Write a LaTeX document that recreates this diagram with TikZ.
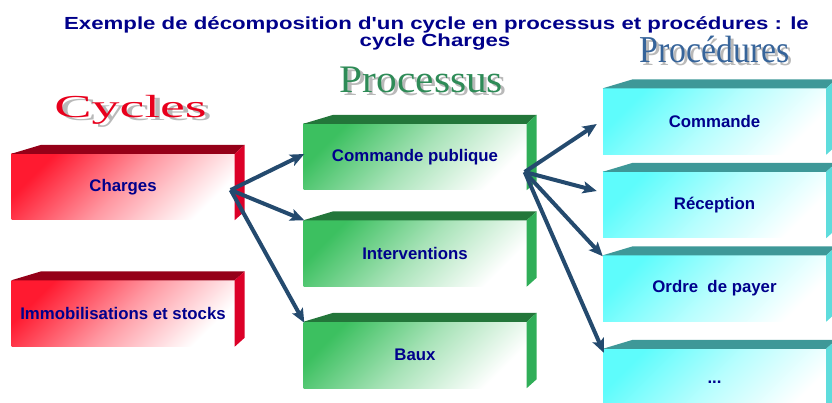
\documentclass[tikz,border=0pt]{standalone}
\usepackage{fontspec}
\setmainfont{Liberation Serif}
\setsansfont{Liberation Sans}
\usetikzlibrary{calc,arrows.meta,positioning}

\definecolor{titrebleu}{HTML}{00008A}
\definecolor{texteboite}{HTML}{00008C}
\definecolor{fleche}{HTML}{244A6E}
\definecolor{rougeFace}{HTML}{FF1A30}
\definecolor{rougeHaut}{HTML}{950018}
\definecolor{rougeCote}{HTML}{DC0028}
\definecolor{vertFace}{HTML}{3CC060}
\definecolor{vertHaut}{HTML}{23763A}
\definecolor{vertCote}{HTML}{30AE58}
\definecolor{cyanFace}{HTML}{5EFCFC}
\definecolor{cyanHaut}{HTML}{3E9898}
\definecolor{cyanCote}{HTML}{5EDCDC}
\definecolor{coulCycles}{HTML}{E8001C}
\definecolor{coulProcessus}{HTML}{2E8B57}
\definecolor{coulProcedures}{HTML}{36649A}

\tikzset{
  face/.style={shade, top color=#1Face, bottom color=white, middle color=#1Face!45,
    shading angle=45, minimum width=223pt, minimum height=66pt, inner sep=0pt,
    text=texteboite, font=\sffamily\bfseries\fontsize{16.8}{18}\selectfont},
  fl/.style={draw=fleche, line width=4pt, -{Stealth[length=14pt,width=12pt,inset=3pt]}},
  titre/.style={anchor=base, text=titrebleu, font=\sffamily\bfseries\fontsize{17.5}{17}\selectfont},
  entete/.style={anchor=base, inner sep=0pt},
}

% texte avec son ombre grise decalee
\newcommand{\ombre}[2]{\rlap{\hspace*{3pt}\raisebox{-3pt}{\textcolor{gray!55}{#2}}}\textcolor{#1}{#2}}

% boite en relief : face avant ombree, dessus et cote
\newcommand{\boite}[4]{%
  \node[face=#3] (#1) at (#2) {#4};
  \fill[#3Haut] (#1.north west) -- ++(30,-9) -- ($(#1.north east)+(10,-9)$) -- (#1.north east) -- cycle;
  \fill[#3Cote] (#1.north east) -- ++(10,-9) -- ($(#1.south east)+(10,-9)$) -- (#1.south east) -- cycle;
}

\begin{document}
\begin{tikzpicture}[x=1pt,y=-1pt]
\useasboundingbox (0,0) rectangle (832,403);
\clip (0,0) rectangle (832,403);

\node[titre] (titre) at (436.5,30) {\scalebox{1.27}[1]{Exemple de décomposition d\textquotesingle un cycle en processus et procédures : le}};
\node[titre] (titre2) at (435,47) {\scalebox{1.27}[1]{cycle Charges}};

% en-tetes
\node[entete,font=\fontsize{32}{32}\selectfont] (cycles) at (130.5,118) {\scalebox{1.75}[1]{\ombre{coulCycles}{Cycles}}};
\node[entete,font=\fontsize{39}{39}\selectfont] (processus) at (421.5,93) {\scalebox{1.06}[1]{\ombre{coulProcessus}{Processus}}};
\node[entete,font=\fontsize{38}{38}\selectfont] (procedures) at (714.5,63) {\scalebox{0.89}[1]{\ombre{coulProcedures}{Procédures}}};

% cycles
\boite{charges}{123,187}{rouge}{Charges}
\boite{immo}{123,313.5}{rouge}{Immobilisations et stocks}

% processus
\boite{cp}{415,157}{vert}{Commande publique}
\boite{interv}{415,253.5}{vert}{Interventions}
\boite{baux}{415,355}{vert}{Baux}

% procedures
\boite{cmd}{714.5,121.5}{cyan}{Commande}
\boite{rec}{714.5,205}{cyan}{Réception}
\boite{ordre}{714.5,288.5}{cyan}{Ordre~~de payer}
\boite{etc}{714.5,382}{cyan}{...}

\coordinate (depart1) at ($(charges.east)+(-4,3)$);
\coordinate (depart2) at ($(cp.east)+(-2,15)$);

\draw[fl] (depart1) -- ($(cp.west)+(1,-3)$);
\draw[fl] (depart1) -- ($(interv.north west)+(1,0)$);
\draw[fl] (depart1) -- ($(baux.north west)+(1,1)$);

\draw[fl] (depart2) -- ($(cmd.west)+(-6,2.5)$);
\draw[fl] (depart2) -- ($(rec.west)+(-6,-14)$);
\draw[fl] (depart2) -- ($(ordre.north west)+(0,1)$);
\draw[fl] (depart2) -- ($(etc.north west)+(1,4)$);

\end{tikzpicture}
\end{document}
